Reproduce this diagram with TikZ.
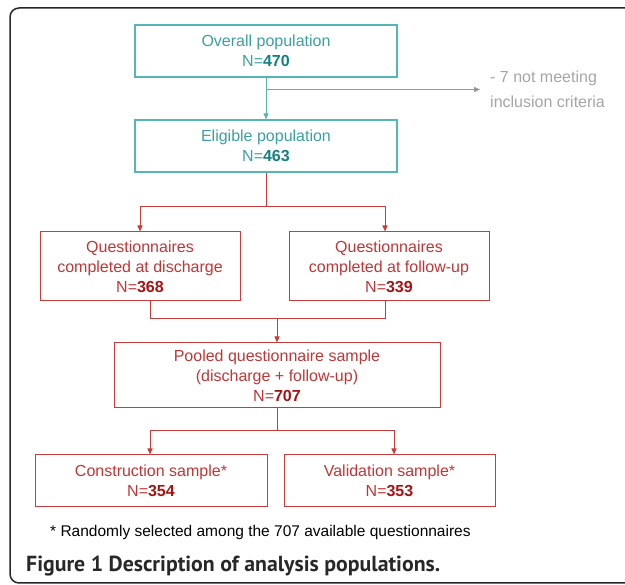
\documentclass[tikz,border=0pt]{standalone}
\usepackage{fontspec}
\setmainfont{Liberation Sans}
\newfontfamily\capfont{PT Sans}
\usetikzlibrary{arrows.meta}

\definecolor{tealline}{RGB}{85,182,182}
\definecolor{tealtext}{RGB}{60,160,160}
\definecolor{tealnum}{RGB}{20,128,128}
\definecolor{redline}{RGB}{200,60,60}
\definecolor{redtext}{RGB}{190,55,55}
\definecolor{rednum}{RGB}{165,20,20}
\definecolor{greyline}{RGB}{150,150,150}
\definecolor{greytext}{RGB}{165,165,165}
\definecolor{framegrey}{RGB}{40,40,40}

\newcommand\tealN[1]{\textbf{\color{tealnum}#1}}
\newcommand\redN[1]{\textbf{\color{rednum}#1}}

\begin{document}
\begin{tikzpicture}[x=1pt, y=-1pt, >={Triangle[length=6pt,width=5pt]},
    box/.style={draw, inner sep=0pt, align=center, font=\fontsize{16}{20}\selectfont},
    tealbox/.style={box, draw=tealline, line width=1.2pt, text=tealtext},
    redbox/.style={box, draw=redline, line width=1pt, text=redtext},
    tealarrow/.style={->, draw=tealline, line width=1pt},
    redjoin/.style={draw=redline, line width=1pt},
    redarrow/.style={->, draw=redline, line width=1pt},
    greyarrow/.style={->, draw=greyline, line width=1pt}]
    \useasboundingbox (0,0) rectangle (625,585);

    % Rahmen
    \draw[framegrey, line width=1.5pt, rounded corners=9pt] (10,8) rectangle (660,583);

    % Population
    \node[tealbox, minimum width=262, minimum height=52] (overall) at (266,51)
        {Overall population\\N=\tealN{470}};
    \node[tealbox, minimum width=262, minimum height=52] (eligible) at (266,146)
        {Eligible population\\N=\tealN{463}};
    \node[anchor=west, inner sep=0pt, align=left, text=greytext,
        font=\fontsize{16}{25}\selectfont] (excl) at (490,89.5)
        {- 7 not meeting\\inclusion criteria};

    \draw[tealarrow] (overall) -- (eligible);
    \draw[greyarrow] (overall.south |- excl.west) -- ([xshift=-10pt]excl.west);

    % Fragebogen
    \node[redbox, minimum width=200, minimum height=69] (disch) at (140,266.5)
        {Questionnaires\\completed at discharge\\N=\redN{368}};
    \node[redbox, minimum width=200, minimum height=69] (follow) at (389,266.5)
        {Questionnaires\\completed at follow-up\\N=\redN{339}};

    \draw[redjoin] (eligible.south) -- ++(0,34) coordinate (fork1);
    \draw[redarrow] (fork1) -| (disch.north);
    \draw[redarrow] (fork1) -| ([xshift=-4pt]follow.north);

    % Pool
    \node[redbox, minimum width=326, minimum height=65] (pooled) at (277,375.5)
        {Pooled questionnaire sample\\(discharge + follow-up)\\N=\redN{707}};

    \draw[redjoin] ([xshift=10pt]disch.south) -- ++(0,17) coordinate (merge)
        -| ([xshift=-4pt]follow.south);
    \draw[redarrow] (pooled.north |- merge) -- (pooled.north);

    % Stichproben
    \node[redbox, minimum width=232, minimum height=52] (constr) at (151,481)
        {Construction sample*\\N=\redN{354}};
    \node[redbox, minimum width=211, minimum height=52] (valid) at (389.5,481)
        {Validation sample*\\N=\redN{353}};

    \draw[redjoin] (pooled.south) -- ++(0,22) coordinate (fork2);
    \draw[redarrow] (fork2) -| ([xshift=-1pt]constr.north);
    \draw[redarrow] (fork2) -| ([xshift=4.5pt]valid.north);

    % Fussnote und Legende
    \node[anchor=west, inner sep=0pt, font=\fontsize{15.5}{18}\selectfont] (note) at (50,532)
        {* Randomly selected among the 707 available questionnaires};
    \node[anchor=west, inner sep=0pt, text=framegrey, font=\capfont\bfseries\fontsize{21.8}{24}\selectfont]
        (caption) at (26,566) {Figure 1 Description of analysis populations.};
\end{tikzpicture}
\end{document}
